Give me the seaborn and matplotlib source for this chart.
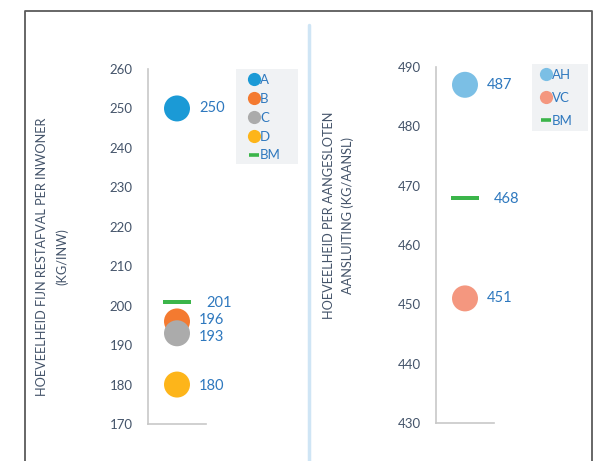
import numpy as np
import pandas as pd
import matplotlib
matplotlib.use("Agg")
import matplotlib.pyplot as plt
from matplotlib.path import Path
from matplotlib.lines import Line2D
from matplotlib.patches import Rectangle
import seaborn as sns

# left panel: fijn restafval per inwoner
left_names = ["A", "B", "C", "D"]
left_values = [250, 196, 193, 180]
left_colors = ["#1B9AD6", "#F47A30", "#ABABAB", "#FDB51A"]
left_bm = 201

# right panel: per aangesloten aansluiting
right_names = ["AH", "VC"]
right_values = [487, 451]
right_colors = ["#7BBFE5", "#F4977F"]
right_bm = 468

bm_color = "#3BB54A"
label_color = "#2E78BE"
tick_color = "#44546A"
spine_color = "#C8C8C8"
legend_bg = "#F0F2F4"

sns.set_theme(style="white")
plt.rcParams["font.family"] = ["Lato", "DejaVu Sans"]

W, H = 595, 461
fig = plt.figure(figsize=(W / 100, H / 100), dpi=100)

# bar-shaped marker for the benchmark
bm_marker = Path([(-1, -0.125), (1, -0.125), (1, 0.125), (-1, 0.125), (-1, -0.125)],
                 [Path.MOVETO, Path.LINETO, Path.LINETO, Path.LINETO, Path.CLOSEPOLY])


def draw_panel(ax, names, values, colors, bm, ylim, step, nudge):
    df = pd.DataFrame({"x": [0.5] * len(values), "y": values, "name": names})
    sns.scatterplot(data=df, x="x", y="y", hue="name", palette=colors,
                    s=350, linewidth=0, ax=ax, legend=False, zorder=3)
    sns.scatterplot(x=[0.5], y=[bm], marker=bm_marker, color=bm_color,
                    s=380, linewidth=0, ax=ax, zorder=2)
    for v in values:
        ax.annotate(str(v), (0.5, v), xytext=(16, nudge.get(v, 0)),
                    textcoords="offset points", ha="left", va="center",
                    color=label_color, fontsize=10.5, annotation_clip=False)
    ax.annotate(str(bm), (0.5, bm), xytext=(21, -1), textcoords="offset points",
                ha="left", va="center", color=label_color, fontsize=10.5,
                annotation_clip=False)
    ax.set_xlim(0, 1)
    ax.set_ylim(*ylim)
    ax.set_yticks(np.arange(ylim[0], ylim[1] + 1, step))
    ax.set_xticks([])
    ax.set_xlabel("")
    ax.set_ylabel("")
    ax.tick_params(axis="y", length=0, pad=11, labelsize=9.5, labelcolor=tick_color)
    for side in ["top", "right"]:
        ax.spines[side].set_visible(False)
    for side in ["left", "bottom"]:
        ax.spines[side].set_color(spine_color)
        ax.spines[side].set_linewidth(1.2)
    ax.patch.set_alpha(0)


ax1 = fig.add_axes([148 / W, 1 - 424 / H, 58 / W, 355 / H])
draw_panel(ax1, left_names, left_values, left_colors, left_bm, (170, 260), 10,
           {196: 1, 193: -2.5, 180: -1})

ax2 = fig.add_axes([436 / W, 1 - 423 / H, 58 / W, 356 / H])
draw_panel(ax2, right_names, right_values, right_colors, right_bm, (430, 490), 10, {})


def legend_handles(names, colors):
    hs = [Line2D([], [], marker="o", linestyle="", markersize=9.5,
                 markerfacecolor=c, markeredgewidth=0, label=n)
          for n, c in zip(names, colors)]
    hs.append(Line2D([], [], marker="_", linestyle="", markersize=6.5,
                     markeredgecolor=bm_color, markeredgewidth=2.6, label="BM"))
    return hs


def add_legend(ax, names, colors, box, anchor, spacing):
    x0, y0, x1, y1 = box
    fig.add_artist(Rectangle((x0 / W, 1 - y1 / H), (x1 - x0) / W, (y1 - y0) / H,
                             transform=fig.transFigure, facecolor=legend_bg,
                             edgecolor="none", zorder=0))
    leg = ax.legend(handles=legend_handles(names, colors), loc="upper left",
                    bbox_to_anchor=(anchor[0] / W, 1 - anchor[1] / H),
                    bbox_transform=fig.transFigure, frameon=False, fontsize=9.5,
                    handlelength=0.75, handletextpad=0.1, labelspacing=spacing,
                    borderpad=0, borderaxespad=0)
    for t in leg.get_texts():
        t.set_color(label_color)


add_legend(ax1, left_names, left_colors, (236, 69, 298, 164), (249, 74), 0.52)
add_legend(ax2, right_names, right_colors, (532, 64, 588, 131), (541, 69), 0.82)

# axis titles
fig.text(42 / W, 1 - 257 / H, "HOEVEELHEID FIJN RESTAFVAL PER INWONER",
         rotation=90, ha="center", va="center", color=tick_color, fontsize=9.2)
fig.text(62 / W, 1 - 257 / H, "(KG/INW)",
         rotation=90, ha="center", va="center", color=tick_color, fontsize=9.2)
fig.text(329 / W, 1 - 215 / H, "HOEVEELHEID PER AANGESLOTEN",
         rotation=90, ha="center", va="center", color=tick_color, fontsize=9.2)
fig.text(348 / W, 1 - 215 / H, "AANSLUITING (KG/AANSL)",
         rotation=90, ha="center", va="center", color=tick_color, fontsize=9.2)

# outer frame and divider
fig.add_artist(Line2D([25 / W, 25 / W, 592 / W, 592 / W],
                      [0, 1 - 11 / H, 1 - 11 / H, 0], color="#5A5A5A",
                      linewidth=1.3, transform=fig.transFigure))
fig.add_artist(Line2D([309 / W, 309 / W], [0, 1 - 25 / H], color="#CFE5F5",
                      linewidth=2.5, transform=fig.transFigure))

fig.savefig("out.png", dpi=100, facecolor="white")
